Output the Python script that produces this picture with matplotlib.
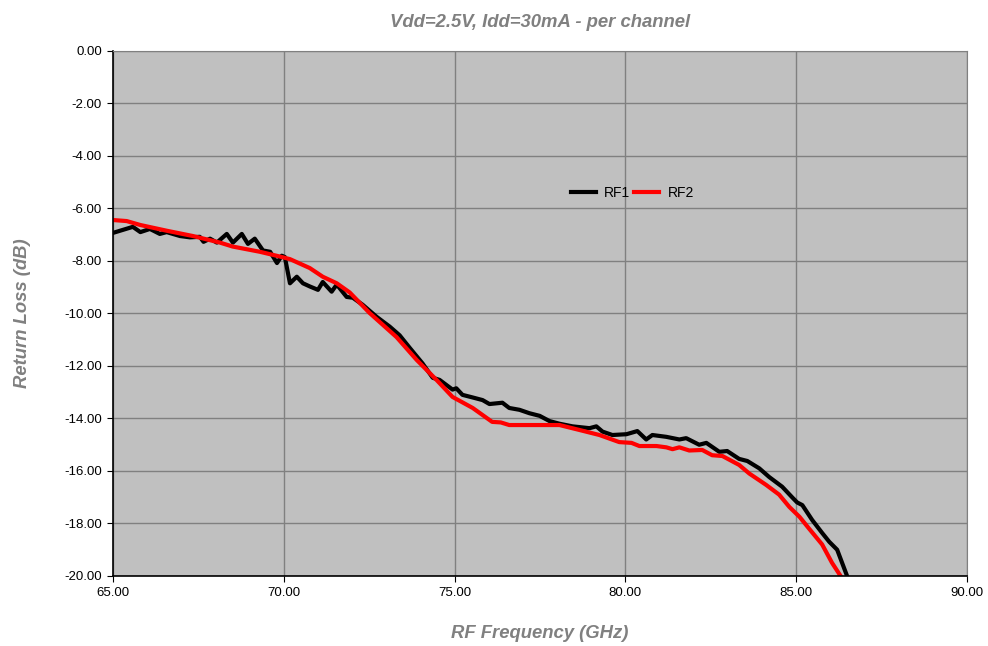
import matplotlib.pyplot as plt

plt.rcParams['font.family'] = ['Liberation Sans', 'DejaVu Sans']

# RF1 return loss (black)
rf1_freq = [65.0, 65.58, 65.8, 66.08, 66.37, 66.57, 66.96, 67.25, 67.54, 67.65, 67.84, 68.04,
            68.33, 68.51, 68.77, 68.95, 69.15, 69.39, 69.6, 69.8, 69.94, 70.03, 70.18, 70.38,
            70.56, 70.76, 71.0, 71.14, 71.4, 71.55, 71.84, 72.02, 72.31, 72.72, 73.1, 73.39,
            73.68, 74.06, 74.36, 74.56, 74.94, 75.05, 75.23, 75.53, 75.82, 76.02, 76.4, 76.6,
            76.9, 77.19, 77.49, 77.78, 78.07, 78.45, 78.95, 79.15, 79.33, 79.62, 80.03, 80.35,
            80.61, 80.79, 81.2, 81.58, 81.78, 82.16, 82.37, 82.75, 82.98, 83.33, 83.57, 83.92,
            84.21, 84.59, 84.88, 85.03, 85.18, 85.47, 85.76, 85.97, 86.2, 86.49]
rf1_loss = [-6.93, -6.7, -6.9, -6.78, -6.97, -6.9, -7.05, -7.1, -7.08, -7.27, -7.15, -7.3,
            -6.97, -7.3, -6.97, -7.35, -7.15, -7.6, -7.65, -8.08, -7.8, -7.85, -8.85, -8.6,
            -8.85, -8.97, -9.1, -8.8, -9.17, -8.9, -9.37, -9.4, -9.67, -10.13, -10.5, -10.83,
            -11.3, -11.9, -12.45, -12.53, -12.9, -12.85, -13.1, -13.2, -13.3, -13.45, -13.4, -13.6,
            -13.67, -13.8, -13.9, -14.1, -14.2, -14.3, -14.37, -14.3, -14.5, -14.63, -14.6, -14.48,
            -14.8, -14.63, -14.7, -14.8, -14.75, -15.0, -14.93, -15.27, -15.24, -15.54, -15.62, -15.9,
            -16.23, -16.6, -17.0, -17.2, -17.3, -17.87, -18.36, -18.7, -19.0, -20.0]

# RF2 return loss (red)
rf2_freq = [65.0, 65.4, 65.8, 66.58, 67.34, 68.13, 68.5, 69.3, 69.88, 70.18, 70.76, 71.14,
            71.55, 71.93, 72.51, 73.3, 73.89, 74.47, 74.94, 75.53, 76.1, 76.35, 76.6, 77.87,
            78.07, 78.66, 79.24, 79.82, 80.18, 80.41, 80.91, 81.2, 81.38, 81.58, 81.87, 82.25,
            82.54, 82.84, 83.33, 83.63, 84.12, 84.5, 84.8, 85.1, 85.38, 85.76, 86.05, 86.35]
rf2_loss = [-6.44, -6.48, -6.63, -6.85, -7.05, -7.3, -7.45, -7.65, -7.83, -7.93, -8.27, -8.6,
            -8.85, -9.2, -9.98, -10.9, -11.77, -12.53, -13.18, -13.6, -14.13, -14.15, -14.25, -14.25,
            -14.25, -14.44, -14.63, -14.9, -14.93, -15.05, -15.05, -15.1, -15.17, -15.1, -15.22, -15.2,
            -15.4, -15.43, -15.77, -16.1, -16.53, -16.9, -17.37, -17.75, -18.2, -18.8, -19.5, -20.1]

fig = plt.figure(figsize=(9.88, 6.46), dpi=100)
ax = fig.add_axes([0.1144, 0.1084, 0.8643, 0.8127])
ax.set_facecolor('#C0C0C0')

ax.plot(rf1_freq, rf1_loss, color='black', lw=3, label='RF1')
ax.plot(rf2_freq, rf2_loss, color='#FF0000', lw=3, label='RF2')

ax.set_xlim(65, 90)
ax.set_ylim(-20, 0)
ax.set_xticks([65, 70, 75, 80, 85, 90])
ax.set_yticks(range(-20, 1, 2))
ax.set_xticklabels(['%.2f' % v for v in [65, 70, 75, 80, 85, 90]])
ax.set_yticklabels(['%.2f' % v for v in range(-20, 1, 2)])
ax.grid(True, color='#808080', lw=1)
ax.set_axisbelow(True)
ax.tick_params(labelsize=9.5, length=4, color='black', pad=4)

for s in ['top', 'right']:
    ax.spines[s].set_color('#808080')
for s in ['left', 'bottom']:
    ax.spines[s].set_color('black')
    ax.spines[s].set_linewidth(1.2)

ax.set_title('Vdd=2.5V, Idd=30mA - per channel', fontsize=13.3, fontweight='bold',
             style='italic', color='#808080', pad=17)
ax.set_xlabel('RF Frequency (GHz)', fontsize=13.3, fontweight='bold', style='italic',
              color='#808080', labelpad=19)
ax.set_ylabel('Return Loss (dB)', fontsize=13.3, fontweight='bold', style='italic',
              color='#808080', labelpad=24)

ax.legend(loc='center', bbox_to_anchor=(0.608, 0.73), ncol=2, frameon=False,
          fontsize=10, handlelength=1.8, columnspacing=0.3, handletextpad=0.6)

fig.savefig('out.png', dpi=100)
